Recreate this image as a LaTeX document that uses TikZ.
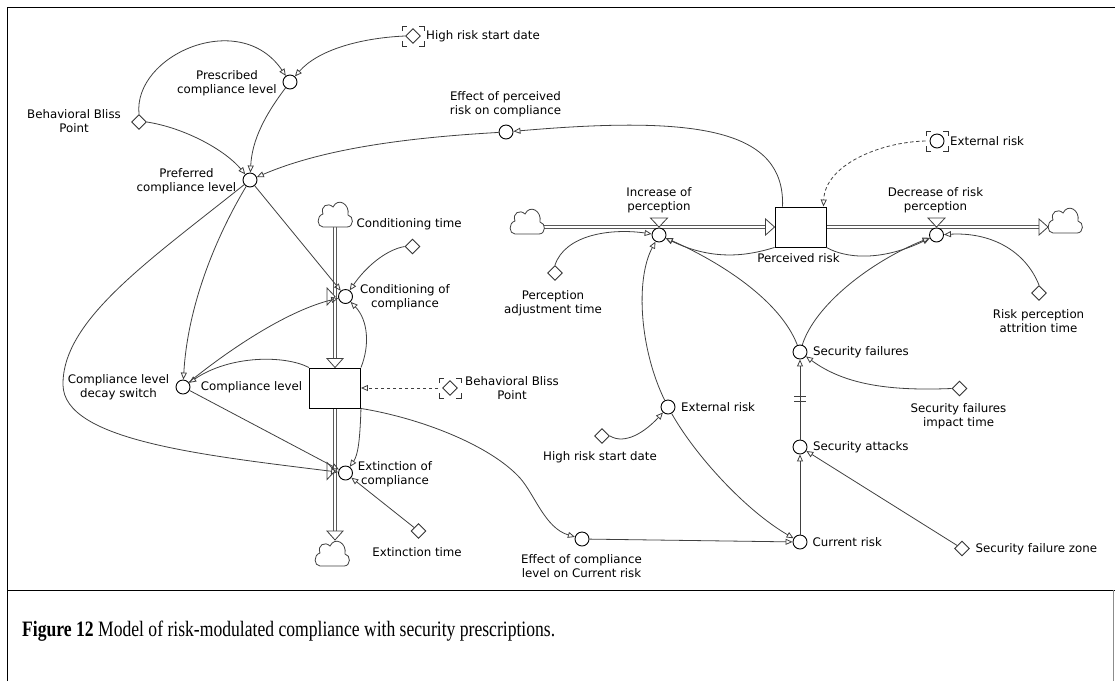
\documentclass[tikz,border=0pt]{standalone}
\usepackage{fontspec}
\usepackage{graphicx}
\newfontfamily\diagfont{DejaVu Sans}
\newfontfamily\capfont{Liberation Serif}
\usetikzlibrary{shapes.geometric,arrows.meta,calc}
\pgfdeclarelayer{bg}
\pgfsetlayers{bg,main}

\tikzset{
  lbl/.style={font=\diagfont\fontsize{11.8}{14}\selectfont, inner sep=0pt, align=center, text=black},
  auxv/.style={circle, draw=black, fill=white, line width=0.9pt, minimum size=14pt, inner sep=0pt},
  constv/.style={diamond, draw=black!80, fill=white, line width=0.9pt, minimum size=15pt, inner sep=0pt},
  stockv/.style={rectangle, draw=black, fill=white, line width=0.9pt, minimum width=51pt, minimum height=40pt, inner sep=0pt},
  link/.style={draw=black!75, line width=0.8pt, -{Triangle[open,length=7pt,width=6pt]}},
  infolink/.style={link, dash pattern=on 3.5pt off 2.5pt},
  pipe/.style={draw=black!65, double=white, double distance=2.6pt, line width=0.8pt},
  flowhead/.style={draw=black!75, fill=white, line width=0.8pt, line join=miter},
  framel/.style={draw=black, line width=1pt},
  ghostmarks/.pic={\draw[black!80, line width=0.8pt]
      (-11,-5)--(-11,-10)--(-6,-10) (6,-10)--(11,-10)--(11,-5)
      (11,5)--(11,10)--(6,10) (-6,10)--(-11,10)--(-11,5);},
  cloudpic/.pic={\draw[black!75, line width=0.8pt, fill=white]
      (-12,13) -- (12,13) .. controls (19,13) and (19,2) .. (13,1)
      .. controls (15,-10) and (3,-17) .. (-2,-7)
      .. controls (-7,-12) and (-15,-8) .. (-12,0)
      .. controls (-19,2) and (-18,13) .. (-12,13) -- cycle;},
}

\begin{document}
\begin{tikzpicture}[x=1pt,y=-1pt]
\useasboundingbox (0,0) rectangle (1115,681);

% frame and caption box
\draw[framel] (7,681) -- (7,7) -- (1115,7);
\draw[framel] (7,590) -- (1115,590);
\draw[draw=black!45, line width=1pt] (1113.5,590) -- (1113.5,681);

% clouds (sources and sinks)
\pic at (335,214) {cloudpic};
\pic at (332,553) {cloudpic};
\pic at (527,221) {cloudpic};
\pic at (1065,220) {cloudpic};
\coordinate (cA) at (335,227);
\coordinate (cB) at (335,540);
\coordinate (cC) at (544,227);
\coordinate (cD) at (1048,227);

% stocks
\node[stockv] (complevel) at (335,388) {};
\node[stockv] (percrisk) at (800.5,227) {};

% valve positions on the pipes
\coordinate (condv) at (335,296.5);
\coordinate (extv) at (335,471);
\coordinate (incv) at (659,227);
\coordinate (decv) at (936.5,227);

% pipes
\begin{pgfonlayer}{bg}
\draw[pipe] (cA) -- ($(complevel.north)+(0,-9)$);
\draw[pipe] (complevel.south) -- ($(cB)+(0,-9)$);
\draw[pipe] (cC) -- ($(percrisk.west)+(-9,0)$);
\draw[pipe] (percrisk.east) -- ($(cD)+(-9,0)$);
\end{pgfonlayer}
\draw[flowhead] ($(complevel.north)+(-8,-9)$) -- ($(complevel.north)+(8,-9)$) -- (complevel.north) -- cycle;
\draw[flowhead] ($(cB)+(-8,-9)$) -- ($(cB)+(8,-9)$) -- (cB) -- cycle;
\draw[flowhead] ($(percrisk.west)+(-9,-8)$) -- ($(percrisk.west)+(-9,8)$) -- (percrisk.west) -- cycle;
\draw[flowhead] ($(cD)+(-9,-8)$) -- ($(cD)+(-9,8)$) -- (cD) -- cycle;

% valve triangles
\draw[flowhead] ($(condv)+(-8,-8.5)$) -- ($(condv)+(-8,8.5)$) -- (condv) -- cycle;
\draw[flowhead] ($(extv)+(-8,-8.5)$) -- ($(extv)+(-8,8.5)$) -- (extv) -- cycle;
\draw[flowhead] ($(incv)+(-8.5,-9)$) -- ($(incv)+(8.5,-9)$) -- (incv) -- cycle;
\draw[flowhead] ($(decv)+(-8.5,-9)$) -- ($(decv)+(8.5,-9)$) -- (decv) -- cycle;

% auxiliaries and rates
\node[auxv] (presc) at (290,82) {};
\node[auxv] (pref) at (250,180) {};
\node[auxv] (effperc) at (506,132) {};
\node[auxv] (condc) at (345.5,296.5) {};
\node[auxv] (extc) at (345.5,473) {};
\node[auxv] (decay) at (183,387) {};
\node[auxv] (incr) at (659,235) {};
\node[auxv] (decr) at (936.5,235) {};
\node[auxv] (secf) at (800,352) {};
\node[auxv] (seca) at (800,447) {};
\node[auxv] (currisk) at (800,542) {};
\node[auxv] (extrisk) at (668,407) {};
\node[auxv] (effcomp) at (582,539) {};

% constants
\node[constv] (bbp) at (139,122) {};
\node[constv] (condtime) at (412.5,246.5) {};
\node[constv] (exttime) at (418.5,531) {};
\node[constv] (perctime) at (555,273) {};
\node[constv] (attrtime) at (1039,293) {};
\node[constv] (sfitime) at (959.5,388.5) {};
\node[constv] (sfzone) at (962,548.5) {};
\node[constv] (hrsd) at (602,436) {};

% shadow variables
\node[constv] (hrsdg) at (413,36) {};
\pic at (413,36) {ghostmarks};
\node[auxv] (extg) at (937,141) {};
\pic at (937,141) {ghostmarks};
\node[constv] (bbpg) at (450,388) {};
\pic at (450,388) {ghostmarks};

% labels
\node[lbl] (t1) at (227,83.5) {Prescribed\\compliance level};
\node[lbl] (t2) at (74,121.5) {Behavioral Bliss\\Point};
\node[lbl] (t3) at (186.5,181) {Preferred\\compliance level};
\node[lbl, anchor=west] (t4) at (426,36) {High risk start date};
\node[lbl] (t5) at (505.5,104.5) {Effect of perceived\\risk on compliance};
\node[lbl, anchor=west] (t6) at (356.5,224) {Conditioning time};
\node[lbl] (t7) at (405,297) {Conditioning of\\compliance};
\node[lbl] (t8) at (251.5,387.5) {Compliance level};
\node[lbl] (t9) at (118.5,387.5) {Compliance level\\decay switch};
\node[lbl] (t10) at (512,388) {Behavioral Bliss\\Point};
\node[lbl] (t11) at (395,474) {Extinction of\\compliance};
\node[lbl] (t12) at (417,552) {Extinction time};
\node[lbl] (t13) at (659,200.5) {Increase of\\perception};
\node[lbl] (t14) at (553,303) {Perception\\adjustment time};
\node[lbl] (t15) at (798.5,258.5) {Perceived risk};
\node[lbl] (t16) at (935.5,200.5) {Decrease of risk\\perception};
\node[lbl, anchor=west] (t17) at (950,141) {External risk};
\node[lbl] (t18) at (1038.5,321.5) {Risk perception\\attrition time};
\node[lbl, anchor=west] (t19) at (813,352) {Security failures};
\node[lbl] (t20) at (958.5,416.5) {Security failures\\impact time};
\node[lbl, anchor=west] (t21) at (813,447) {Security attacks};
\node[lbl, anchor=west] (t22) at (812.5,542) {Current risk};
\node[lbl, anchor=west] (t23) at (975.5,549) {Security failure zone};
\node[lbl, anchor=west] (t24) at (681,407) {External risk};
\node[lbl] (t25) at (600,457) {High risk start date};
\node[lbl] (t26) at (581.5,566.5) {Effect of compliance\\level on Current risk};

% causal links: compliance sector
\draw[link] (bbp.north) .. controls (133,55) and (240,8) .. (presc);
\draw[link] (hrsdg.west) .. controls (360,38) and (318,50) .. (presc);
\draw[link] (bbp.east) .. controls (185,128) and (225,150) .. (pref);
\draw[link] (presc) .. controls (265,115) and (252,140) .. (pref);
\draw[link] (effperc) .. controls (400,138) and (320,150) .. (pref);
\draw[link] (condtime.west) .. controls (385,250) and (365,268) .. (condc);
\draw[link] (pref) -- (condc);
\draw[link] (complevel.north east) .. controls (370,345) and (368,320) .. (condc);
\draw[link] (decay) .. controls (235,345) and (290,310) .. (condc);
\draw[link] (complevel.north west) .. controls (285,355) and (230,355) .. (decay);
\draw[link] (pref) .. controls (220,230) and (188,300) .. (decay);
\draw[link] (pref) .. controls (150,260) and (62,320) .. (63,385)
                   .. controls (64,440) and (200,455) .. (extc);
\draw[link] (decay) -- (extc);
\draw[link] (complevel.south east) .. controls (360,440) and (358,455) .. (extc);
\draw[link] (exttime) -- (extc);
\draw[infolink] ($(bbpg.west)+(-4,0)$) -- (complevel.east);
\draw[link] (complevel.south east) .. controls (420,418) and (490,445) .. (520,478)
                   .. controls (535,495) and (545,528) .. (effcomp);

% causal links: risk sector
\draw[link] ($(percrisk.north west)+(8,0)$) .. controls (785,130) and (700,115) .. (effperc);
\draw[infolink] ($(extg.west)+(-4,0)$) .. controls (880,142) and (825,165) .. ($(percrisk.north east)+(-3,0)$);
\draw[link] (percrisk.south west) .. controls (750,255) and (715,262) .. (incr);
\draw[link] (percrisk.south east) .. controls (845,258) and (880,262) .. (decr);
\draw[link] (secf) .. controls (780,300) and (720,262) .. (incr);
\draw[link] (secf) .. controls (815,305) and (870,262) .. (decr);
\draw[link] (attrtime.north) .. controls (1025,250) and (990,232) .. (decr);
\draw[link] (perctime.north) .. controls (565,235) and (610,228) .. (incr);
\draw[link] (extrisk) .. controls (640,350) and (635,280) .. (incr);
\draw[link] (hrsd.east) .. controls (625,445) and (645,432) .. (extrisk);
\draw[link] (extrisk) .. controls (695,455) and (745,510) .. (currisk);
\draw[link] (effcomp) -- (currisk);
\draw[link] (currisk) -- (seca);
\draw[link] (seca) -- (secf);
\draw[black!75, line width=0.8pt] (794,396.5) -- (806,396.5) (794,401.5) -- (806,401.5);
\draw[link] (sfitime.west) .. controls (890,391) and (845,385) .. (secf);
\draw[link] (sfzone) -- (seca);

% caption
\node[anchor=base west, inner sep=0pt] (cap) at (22,636)
  {\scalebox{0.8}[1]{\capfont\fontsize{22}{26}\selectfont\textbf{Figure 12} Model of risk-modulated compliance with security prescriptions.}};
\end{tikzpicture}
\end{document}
